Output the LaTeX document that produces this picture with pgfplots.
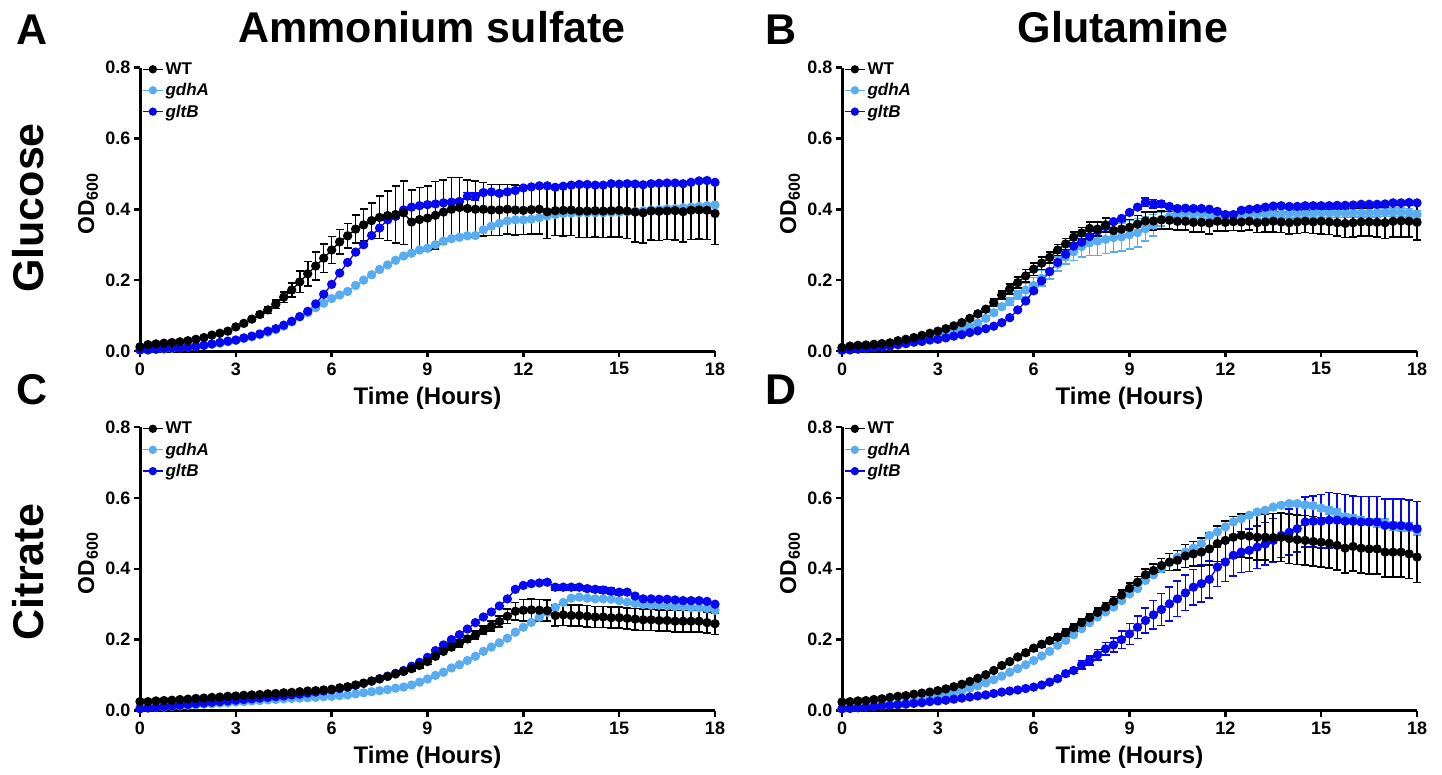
\documentclass[border=0pt]{standalone}
\usepackage{fontspec}
\setmainfont{Liberation Sans}
\usepackage{pgfplots}
\usepackage{pgfplotstable}
\pgfplotsset{compat=1.18}
\definecolor{lb}{RGB}{90,172,240}
\definecolor{db}{RGB}{8,8,238}
\tikzset{
 wt/.style={black, line width=1.3pt, mark=*, mark size=4pt},
 gd/.style={lb, line width=1.3pt, mark=*, mark size=4pt},
 gl/.style={db, line width=1.3pt, mark=*, mark size=4pt},
}
\pgfplotsset{
 eb/.style={error bars/y dir=both, error bars/y explicit,
   error bars/error bar style={line width=1.6pt},
   error bars/error mark options={rotate=90, mark size=4pt, line width=1.6pt}},
 panel/.style={scale only axis, width=575pt, height=283.5pt,
   xmin=0, xmax=18, ymin=0, ymax=0.8,
   xtick={0,3,6,9,12,15,18}, ytick={0,0.2,0.4,0.6,0.8},
   axis x line*=bottom, axis y line*=left,
   axis line style={line width=3pt, -},
   tick style={line width=2.5pt, black}, major tick length=6pt, tick align=outside,
   clip=false,
   /pgf/number format/assume math mode=true,
   tick label style={font=\bfseries\fontsize{18}{18}\selectfont},
   xticklabel style={yshift=-2pt},
   yticklabel style={/pgf/number format/.cd, fixed, fixed zerofill, precision=1},
   xlabel={Time (Hours)},
   xlabel style={font=\bfseries\fontsize{24}{24}\selectfont, at={(axis description cs:0.5,-0.166)}, anchor=center},
   ylabel={OD\textsubscript{600}},
   ylabel style={font=\bfseries\fontsize{23}{23}\selectfont, at={(axis description cs:-0.0904,0.52)}, anchor=center},
   legend style={at={(axis description cs:0,1)}, anchor=north west, xshift=2pt, yshift=7pt,
     draw=none, fill=none, inner sep=0pt, row sep=3.5pt,
     font=\bfseries\fontsize{17}{19}\selectfont},
   legend cell align=left,
   legend image code/.code={\draw[#1, mark size=3.5pt, mark repeat=2, mark phase=2] plot coordinates {(0pt,0pt) (10pt,0pt) (20pt,0pt)};},
 }
}
\pgfplotstableread{
t a ae b be c ce
0.00 0.012 0.003 0.003 0.002 0.003 0.002
0.25 0.018 0.003 0.004 0.002 0.003 0.002
0.50 0.020 0.003 0.005 0.002 0.005 0.002
0.75 0.022 0.003 0.006 0.002 0.007 0.002
1.00 0.024 0.003 0.008 0.002 0.009 0.002
1.25 0.026 0.003 0.009 0.002 0.009 0.002
1.50 0.029 0.003 0.011 0.002 0.011 0.002
1.75 0.033 0.003 0.013 0.002 0.013 0.002
2.00 0.038 0.003 0.016 0.002 0.016 0.002
2.25 0.045 0.003 0.019 0.002 0.020 0.002
2.50 0.050 0.003 0.022 0.002 0.024 0.002
2.75 0.056 0.004 0.026 0.002 0.028 0.002
3.00 0.068 0.004 0.030 0.002 0.031 0.002
3.25 0.078 0.005 0.035 0.002 0.037 0.002
3.50 0.090 0.005 0.040 0.002 0.042 0.002
3.75 0.103 0.008 0.046 0.002 0.048 0.002
4.00 0.116 0.010 0.053 0.002 0.056 0.002
4.25 0.132 0.012 0.060 0.002 0.063 0.002
4.50 0.152 0.015 0.070 0.002 0.073 0.002
4.75 0.172 0.020 0.082 0.002 0.084 0.002
5.00 0.195 0.030 0.097 0.003 0.097 0.003
5.25 0.218 0.035 0.108 0.003 0.112 0.003
5.50 0.240 0.040 0.122 0.003 0.133 0.003
5.75 0.262 0.040 0.135 0.003 0.160 0.003
6.00 0.285 0.038 0.148 0.003 0.188 0.003
6.25 0.308 0.035 0.158 0.003 0.220 0.003
6.50 0.325 0.035 0.168 0.003 0.250 0.003
6.75 0.344 0.040 0.185 0.003 0.279 0.003
7.00 0.356 0.045 0.200 0.003 0.300 0.003
7.25 0.368 0.050 0.215 0.003 0.326 0.003
7.50 0.377 0.060 0.230 0.003 0.347 0.003
7.75 0.382 0.070 0.243 0.003 0.370 0.003
8.00 0.385 0.080 0.256 0.003 0.380 0.004
8.25 0.390 0.090 0.268 0.003 0.398 0.004
8.50 0.364 0.090 0.276 0.003 0.406 0.004
8.75 0.371 0.090 0.285 0.003 0.410 0.004
9.00 0.375 0.090 0.290 0.003 0.413 0.004
9.25 0.383 0.095 0.300 0.003 0.415 0.004
9.50 0.392 0.090 0.310 0.003 0.418 0.004
9.75 0.400 0.090 0.317 0.003 0.420 0.004
10.00 0.405 0.085 0.321 0.003 0.422 0.006
10.25 0.402 0.080 0.325 0.003 0.437 0.010
10.50 0.400 0.080 0.326 0.003 0.436 0.010
10.75 0.400 0.075 0.342 0.003 0.447 0.006
11.00 0.398 0.072 0.352 0.003 0.449 0.004
11.25 0.398 0.072 0.360 0.003 0.445 0.004
11.50 0.400 0.070 0.367 0.003 0.449 0.004
11.75 0.398 0.070 0.370 0.003 0.453 0.004
12.00 0.397 0.068 0.370 0.003 0.460 0.004
12.25 0.399 0.068 0.372 0.003 0.463 0.004
12.50 0.400 0.070 0.376 0.003 0.466 0.004
12.75 0.393 0.075 0.381 0.003 0.466 0.004
13.00 0.396 0.070 0.385 0.003 0.462 0.004
13.25 0.397 0.072 0.388 0.003 0.465 0.004
13.50 0.398 0.072 0.389 0.003 0.468 0.004
13.75 0.395 0.075 0.390 0.003 0.470 0.004
14.00 0.395 0.075 0.390 0.003 0.470 0.004
14.25 0.396 0.075 0.390 0.003 0.468 0.004
14.50 0.395 0.075 0.390 0.003 0.468 0.004
14.75 0.396 0.075 0.391 0.003 0.472 0.004
15.00 0.397 0.075 0.392 0.003 0.471 0.004
15.25 0.395 0.078 0.393 0.003 0.472 0.004
15.50 0.392 0.085 0.394 0.003 0.471 0.004
15.75 0.390 0.085 0.396 0.003 0.469 0.004
16.00 0.395 0.082 0.398 0.003 0.472 0.004
16.25 0.394 0.082 0.399 0.003 0.473 0.004
16.50 0.395 0.080 0.401 0.003 0.474 0.004
16.75 0.396 0.082 0.402 0.003 0.474 0.004
17.00 0.393 0.085 0.404 0.003 0.472 0.004
17.25 0.397 0.082 0.406 0.003 0.476 0.004
17.50 0.398 0.082 0.408 0.003 0.480 0.004
17.75 0.397 0.082 0.410 0.003 0.481 0.004
18.00 0.388 0.088 0.412 0.003 0.476 0.004
}\tA
\pgfplotstableread{
t a ae b be c ce
0.00 0.010 0.003 0.005 0.002 0.002 0.002
0.25 0.014 0.003 0.006 0.002 0.003 0.002
0.50 0.016 0.003 0.007 0.002 0.005 0.002
0.75 0.017 0.003 0.008 0.002 0.007 0.002
1.00 0.019 0.003 0.010 0.002 0.009 0.002
1.25 0.021 0.003 0.012 0.002 0.011 0.002
1.50 0.023 0.003 0.014 0.002 0.014 0.002
1.75 0.029 0.003 0.017 0.002 0.018 0.002
2.00 0.033 0.003 0.021 0.002 0.021 0.002
2.25 0.038 0.003 0.025 0.002 0.025 0.002
2.50 0.044 0.003 0.030 0.002 0.027 0.002
2.75 0.050 0.003 0.035 0.002 0.031 0.002
3.00 0.056 0.004 0.040 0.002 0.033 0.002
3.25 0.063 0.004 0.046 0.002 0.037 0.002
3.50 0.071 0.004 0.053 0.003 0.042 0.002
3.75 0.080 0.005 0.060 0.003 0.046 0.002
4.00 0.092 0.006 0.069 0.004 0.052 0.002
4.25 0.105 0.007 0.079 0.004 0.057 0.002
4.50 0.118 0.008 0.092 0.005 0.063 0.002
4.75 0.137 0.010 0.108 0.006 0.070 0.002
5.00 0.158 0.012 0.125 0.008 0.080 0.003
5.25 0.175 0.014 0.140 0.010 0.094 0.003
5.50 0.193 0.016 0.158 0.012 0.116 0.003
5.75 0.212 0.018 0.172 0.020 0.141 0.003
6.00 0.231 0.018 0.185 0.022 0.170 0.003
6.25 0.248 0.018 0.205 0.022 0.198 0.003
6.50 0.264 0.016 0.225 0.022 0.224 0.003
6.75 0.285 0.015 0.245 0.020 0.250 0.003
7.00 0.302 0.015 0.265 0.020 0.273 0.003
7.25 0.321 0.015 0.280 0.025 0.296 0.003
7.50 0.333 0.016 0.295 0.030 0.307 0.003
7.75 0.346 0.018 0.305 0.035 0.323 0.003
8.00 0.344 0.020 0.310 0.040 0.339 0.003
8.25 0.356 0.020 0.315 0.040 0.351 0.003
8.50 0.340 0.020 0.320 0.040 0.365 0.004
8.75 0.344 0.022 0.322 0.040 0.374 0.004
9.00 0.349 0.022 0.328 0.040 0.391 0.004
9.25 0.358 0.024 0.334 0.040 0.406 0.006
9.50 0.367 0.025 0.345 0.035 0.420 0.012
9.75 0.367 0.025 0.355 0.030 0.415 0.012
10.00 0.370 0.025 0.372 0.020 0.415 0.008
10.25 0.369 0.025 0.380 0.015 0.408 0.004
10.50 0.366 0.025 0.388 0.012 0.402 0.004
10.75 0.366 0.025 0.390 0.012 0.403 0.004
11.00 0.363 0.028 0.388 0.012 0.402 0.004
11.25 0.363 0.028 0.386 0.012 0.402 0.004
11.50 0.361 0.030 0.385 0.012 0.400 0.004
11.75 0.366 0.028 0.380 0.012 0.394 0.004
12.00 0.363 0.025 0.378 0.012 0.385 0.004
12.25 0.365 0.025 0.380 0.012 0.385 0.004
12.50 0.364 0.025 0.383 0.012 0.397 0.004
12.75 0.366 0.025 0.385 0.012 0.400 0.004
13.00 0.362 0.028 0.386 0.012 0.402 0.004
13.25 0.364 0.028 0.386 0.012 0.406 0.004
13.50 0.366 0.030 0.387 0.012 0.409 0.004
13.75 0.364 0.030 0.387 0.012 0.410 0.004
14.00 0.362 0.032 0.388 0.012 0.408 0.004
14.25 0.364 0.032 0.388 0.012 0.408 0.004
14.50 0.366 0.032 0.388 0.012 0.410 0.004
14.75 0.364 0.032 0.388 0.012 0.410 0.004
15.00 0.366 0.035 0.389 0.012 0.410 0.004
15.25 0.364 0.035 0.389 0.012 0.410 0.004
15.50 0.362 0.038 0.389 0.012 0.411 0.004
15.75 0.360 0.040 0.389 0.012 0.411 0.004
16.00 0.362 0.040 0.390 0.012 0.412 0.004
16.25 0.364 0.040 0.390 0.012 0.414 0.004
16.50 0.364 0.040 0.390 0.012 0.414 0.004
16.75 0.363 0.042 0.390 0.012 0.414 0.004
17.00 0.362 0.045 0.391 0.012 0.415 0.004
17.25 0.366 0.045 0.391 0.012 0.418 0.004
17.50 0.367 0.045 0.391 0.012 0.418 0.004
17.75 0.366 0.045 0.390 0.012 0.419 0.004
18.00 0.363 0.050 0.385 0.012 0.418 0.004
}\tB
\pgfplotstableread{
t a ae b be c ce
0.00 0.025 0.003 0.007 0.002 0.005 0.002
0.25 0.025 0.003 0.008 0.002 0.007 0.002
0.50 0.027 0.003 0.009 0.002 0.009 0.002
0.75 0.028 0.003 0.010 0.002 0.011 0.002
1.00 0.029 0.003 0.012 0.002 0.013 0.002
1.25 0.031 0.003 0.013 0.002 0.015 0.002
1.50 0.032 0.003 0.015 0.002 0.017 0.002
1.75 0.034 0.003 0.016 0.002 0.019 0.002
2.00 0.035 0.003 0.018 0.002 0.021 0.002
2.25 0.037 0.003 0.019 0.002 0.023 0.002
2.50 0.038 0.003 0.021 0.002 0.025 0.002
2.75 0.040 0.003 0.022 0.002 0.027 0.002
3.00 0.041 0.003 0.024 0.002 0.029 0.002
3.25 0.043 0.003 0.025 0.002 0.031 0.002
3.50 0.044 0.003 0.027 0.002 0.033 0.002
3.75 0.045 0.003 0.028 0.002 0.035 0.002
4.00 0.047 0.003 0.030 0.002 0.037 0.002
4.25 0.048 0.003 0.031 0.002 0.039 0.002
4.50 0.050 0.003 0.033 0.002 0.041 0.002
4.75 0.051 0.003 0.034 0.002 0.044 0.002
5.00 0.053 0.003 0.035 0.002 0.046 0.002
5.25 0.055 0.003 0.036 0.002 0.049 0.002
5.50 0.056 0.003 0.037 0.002 0.052 0.002
5.75 0.058 0.003 0.039 0.002 0.055 0.002
6.00 0.060 0.003 0.040 0.002 0.058 0.002
6.25 0.064 0.003 0.042 0.002 0.062 0.002
6.50 0.067 0.003 0.044 0.002 0.066 0.002
6.75 0.072 0.003 0.047 0.002 0.071 0.002
7.00 0.077 0.003 0.050 0.002 0.077 0.002
7.25 0.083 0.003 0.053 0.002 0.083 0.002
7.50 0.089 0.003 0.056 0.002 0.090 0.002
7.75 0.096 0.003 0.059 0.002 0.097 0.002
8.00 0.103 0.004 0.063 0.002 0.105 0.002
8.25 0.110 0.005 0.066 0.002 0.113 0.002
8.50 0.118 0.006 0.072 0.002 0.125 0.002
8.75 0.127 0.007 0.080 0.002 0.136 0.002
9.00 0.138 0.008 0.089 0.002 0.150 0.002
9.25 0.153 0.008 0.099 0.002 0.169 0.002
9.50 0.167 0.008 0.108 0.002 0.185 0.002
9.75 0.179 0.009 0.120 0.002 0.200 0.002
10.00 0.190 0.010 0.129 0.002 0.214 0.002
10.25 0.202 0.010 0.141 0.002 0.230 0.002
10.50 0.212 0.012 0.153 0.002 0.248 0.002
10.75 0.226 0.012 0.167 0.002 0.264 0.002
11.00 0.238 0.014 0.179 0.002 0.278 0.002
11.25 0.251 0.016 0.191 0.002 0.295 0.002
11.50 0.266 0.020 0.204 0.002 0.315 0.003
11.75 0.280 0.025 0.221 0.002 0.342 0.003
12.00 0.283 0.030 0.235 0.002 0.353 0.003
12.25 0.284 0.030 0.249 0.002 0.358 0.003
12.50 0.283 0.030 0.263 0.002 0.360 0.004
12.75 0.282 0.030 0.277 0.002 0.362 0.006
13.00 0.268 0.030 0.291 0.003 0.348 0.008
13.25 0.270 0.030 0.305 0.003 0.348 0.008
13.50 0.268 0.030 0.317 0.003 0.348 0.008
13.75 0.268 0.030 0.320 0.003 0.348 0.008
14.00 0.266 0.030 0.317 0.003 0.344 0.008
14.25 0.264 0.030 0.315 0.003 0.342 0.008
14.50 0.264 0.030 0.315 0.003 0.340 0.008
14.75 0.262 0.030 0.314 0.003 0.337 0.008
15.00 0.262 0.030 0.310 0.003 0.334 0.008
15.25 0.260 0.030 0.306 0.003 0.334 0.006
15.50 0.258 0.030 0.302 0.003 0.323 0.005
15.75 0.256 0.030 0.299 0.003 0.315 0.004
16.00 0.256 0.030 0.297 0.003 0.315 0.004
16.25 0.254 0.030 0.297 0.003 0.314 0.004
16.50 0.254 0.030 0.295 0.003 0.314 0.004
16.75 0.252 0.030 0.293 0.003 0.312 0.004
17.00 0.252 0.030 0.293 0.003 0.310 0.004
17.25 0.252 0.030 0.290 0.003 0.310 0.004
17.50 0.252 0.030 0.290 0.003 0.310 0.004
17.75 0.248 0.030 0.288 0.003 0.308 0.004
18.00 0.245 0.030 0.283 0.003 0.300 0.004
}\tC
\pgfplotstableread{
t a ae b be c ce
0.00 0.024 0.003 0.005 0.002 0.005 0.002
0.25 0.025 0.003 0.006 0.002 0.006 0.002
0.50 0.027 0.003 0.008 0.002 0.008 0.002
0.75 0.028 0.003 0.010 0.002 0.009 0.002
1.00 0.031 0.003 0.012 0.002 0.011 0.002
1.25 0.033 0.003 0.014 0.002 0.013 0.002
1.50 0.037 0.003 0.017 0.002 0.014 0.002
1.75 0.040 0.003 0.020 0.002 0.016 0.002
2.00 0.042 0.003 0.023 0.002 0.018 0.002
2.25 0.046 0.003 0.027 0.002 0.020 0.002
2.50 0.049 0.003 0.031 0.002 0.022 0.002
2.75 0.052 0.003 0.035 0.002 0.025 0.002
3.00 0.056 0.003 0.040 0.002 0.027 0.002
3.25 0.061 0.003 0.045 0.002 0.029 0.002
3.50 0.067 0.003 0.050 0.002 0.032 0.002
3.75 0.074 0.003 0.056 0.002 0.035 0.002
4.00 0.082 0.003 0.063 0.002 0.038 0.002
4.25 0.091 0.003 0.070 0.002 0.041 0.002
4.50 0.101 0.003 0.078 0.002 0.044 0.002
4.75 0.113 0.004 0.087 0.002 0.048 0.002
5.00 0.127 0.004 0.097 0.002 0.052 0.002
5.25 0.138 0.004 0.108 0.002 0.055 0.002
5.50 0.151 0.005 0.118 0.002 0.058 0.002
5.75 0.163 0.008 0.129 0.002 0.062 0.002
6.00 0.176 0.008 0.141 0.002 0.066 0.003
6.25 0.187 0.008 0.154 0.002 0.072 0.003
6.50 0.197 0.008 0.167 0.002 0.080 0.004
6.75 0.207 0.009 0.184 0.002 0.090 0.005
7.00 0.220 0.010 0.198 0.002 0.104 0.008
7.25 0.234 0.010 0.214 0.002 0.113 0.008
7.50 0.248 0.011 0.231 0.002 0.129 0.012
7.75 0.262 0.012 0.248 0.002 0.141 0.012
8.00 0.277 0.012 0.264 0.002 0.157 0.015
8.25 0.292 0.013 0.278 0.003 0.174 0.018
8.50 0.308 0.014 0.292 0.003 0.185 0.020
8.75 0.326 0.014 0.310 0.003 0.200 0.025
9.00 0.345 0.015 0.329 0.003 0.216 0.030
9.25 0.362 0.016 0.344 0.003 0.235 0.032
9.50 0.383 0.017 0.367 0.003 0.254 0.035
9.75 0.395 0.018 0.383 0.003 0.270 0.040
10.00 0.409 0.020 0.400 0.003 0.285 0.045
10.25 0.419 0.024 0.417 0.003 0.301 0.048
10.50 0.424 0.028 0.433 0.003 0.315 0.050
10.75 0.436 0.032 0.447 0.003 0.332 0.050
11.00 0.442 0.035 0.458 0.004 0.348 0.050
11.25 0.447 0.040 0.471 0.004 0.358 0.052
11.50 0.456 0.045 0.494 0.004 0.370 0.052
11.75 0.471 0.050 0.504 0.004 0.405 0.055
12.00 0.480 0.055 0.518 0.004 0.419 0.055
12.25 0.489 0.058 0.532 0.004 0.438 0.058
12.50 0.494 0.060 0.541 0.005 0.447 0.058
12.75 0.492 0.062 0.551 0.005 0.452 0.060
13.00 0.489 0.065 0.560 0.005 0.461 0.060
13.25 0.489 0.065 0.565 0.005 0.470 0.060
13.50 0.488 0.068 0.574 0.005 0.480 0.062
13.75 0.489 0.068 0.579 0.006 0.494 0.062
14.00 0.485 0.070 0.584 0.006 0.503 0.065
14.25 0.482 0.070 0.584 0.006 0.513 0.065
14.50 0.480 0.070 0.580 0.007 0.532 0.070
14.75 0.477 0.070 0.578 0.008 0.534 0.072
15.00 0.475 0.070 0.571 0.008 0.534 0.075
15.25 0.472 0.070 0.565 0.010 0.537 0.078
15.50 0.466 0.070 0.558 0.010 0.537 0.075
15.75 0.458 0.070 0.546 0.010 0.534 0.075
16.00 0.463 0.070 0.541 0.010 0.534 0.072
16.25 0.458 0.070 0.537 0.010 0.532 0.072
16.50 0.456 0.070 0.532 0.010 0.532 0.072
16.75 0.456 0.070 0.530 0.012 0.532 0.072
17.00 0.447 0.070 0.528 0.012 0.522 0.075
17.25 0.447 0.070 0.520 0.012 0.522 0.075
17.50 0.447 0.070 0.518 0.012 0.522 0.075
17.75 0.442 0.070 0.518 0.012 0.519 0.075
18.00 0.433 0.072 0.508 0.012 0.513 0.077
}\tD
\newcommand{\panelplots}[1]{%
  \addlegendimage{wt}\addlegendentry{WT}
  \addlegendimage{gd}\addlegendentry{\textit{gdhA}}
  \addlegendimage{gl}\addlegendentry{\textit{gltB}}
  \addplot[gd, eb, forget plot] table[x=t, y=b, y error=be]{#1};
  \addplot[gl, eb, forget plot] table[x=t, y=c, y error=ce]{#1};
  \addplot[wt, eb, forget plot] table[x=t, y=a, y error=ae]{#1};
}
\begin{document}
\begin{tikzpicture}
\path[use as bounding box] (0pt,0pt) rectangle (1442pt,-774pt);
\begin{axis}[panel, at={(140pt,-351pt)}, anchor=south west]
\panelplots{\tA}
\end{axis}
\begin{axis}[panel, at={(842pt,-351pt)}, anchor=south west]
\panelplots{\tB}
\end{axis}
\begin{axis}[panel, at={(140pt,-710.5pt)}, anchor=south west]
\panelplots{\tC}
\end{axis}
\begin{axis}[panel, at={(842pt,-710.5pt)}, anchor=south west]
\panelplots{\tD}
\end{axis}
\tikzset{big/.style={font=\bfseries\fontsize{43}{43}\selectfont, inner sep=0pt}}
\node[big] at (32pt,-30pt) {A};
\node[big] at (781pt,-30pt) {B};
\node[big] at (32pt,-390pt) {C};
\node[big] at (781pt,-390pt) {D};
\node[big] at (432pt,-27pt) {Ammonium sulfate};
\node[big] at (1123pt,-27pt) {Glutamine};
\node[big, rotate=90] at (28pt,-208pt) {Glucose};
\node[big, rotate=90] at (28pt,-572pt) {Citrate};
\end{tikzpicture}
\end{document}
